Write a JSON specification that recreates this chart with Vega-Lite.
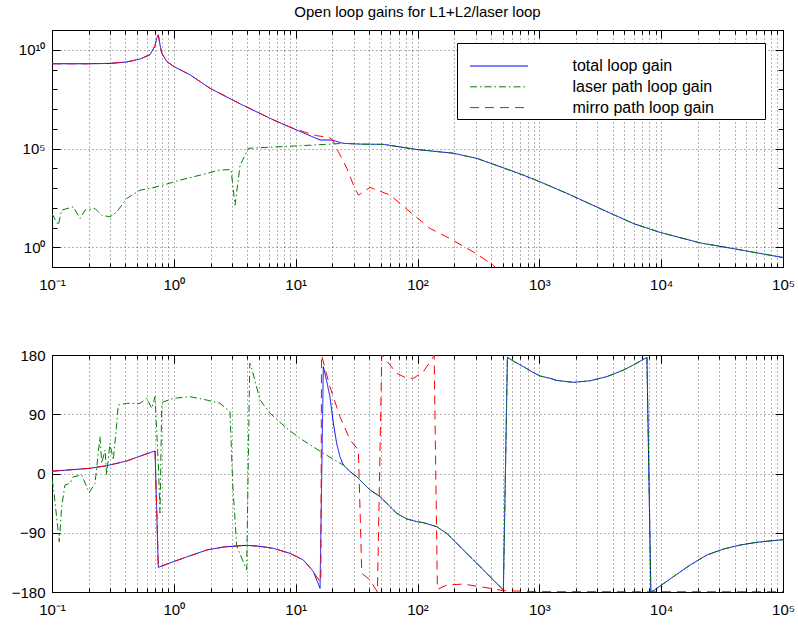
{
"$schema": "https://vega.github.io/schema/vega-lite/v6.json",
"background": "white",
"padding": {"left": 10, "top": 4, "right": 0, "bottom": 5},
"bounds": "flush",
"spacing": 88,
"config": {
  "font": "Liberation Sans",
  "view": {"stroke": "black", "strokeWidth": 1},
  "axis": {"domain": false, "labelColor": "black", "tickColor": "black", "labelFontSize": 15, "gridColor": "#000000", "gridDash": [1, 3], "labelFlush": false, "labelOverlap": false, "labelBound": false}
},
"datasets": {
"mag": [
{"series":"total loop gain","freq":0.1,"gain":1.95e9},
{"series":"total loop gain","freq":0.2,"gain":1.95e9},
{"series":"total loop gain","freq":0.3,"gain":2.04e9},
{"series":"total loop gain","freq":0.41,"gain":2.4e9},
{"series":"total loop gain","freq":0.528,"gain":3.39e9},
{"series":"total loop gain","freq":0.638,"gain":5.62e9},
{"series":"total loop gain","freq":0.70,"gain":1.58e10},
{"series":"total loop gain","freq":0.724,"gain":3.9e10},
{"series":"total loop gain","freq":0.746,"gain":5.75e10},
{"series":"total loop gain","freq":0.770,"gain":1.78e10},
{"series":"total loop gain","freq":0.796,"gain":6.76e9},
{"series":"total loop gain","freq":0.875,"gain":2.57e9},
{"series":"total loop gain","freq":1.0,"gain":1.41e9},
{"series":"total loop gain","freq":1.36,"gain":5.37e8},
{"series":"total loop gain","freq":1.98,"gain":1.12e8},
{"series":"total loop gain","freq":3.5,"gain":1.82e7},
{"series":"total loop gain","freq":6.56,"gain":2.82e6},
{"series":"total loop gain","freq":9.0,"gain":1.2e6},
{"series":"total loop gain","freq":12.3,"gain":5.25e5},
{"series":"total loop gain","freq":15.9,"gain":2.69e5},
{"series":"total loop gain","freq":19.8,"gain":2.69e5},
{"series":"total loop gain","freq":24.6,"gain":1.82e5},
{"series":"total loop gain","freq":35,"gain":1.66e5},
{"series":"total loop gain","freq":52.5,"gain":1.62e5},
{"series":"total loop gain","freq":98.6,"gain":8.9e4},
{"series":"total loop gain","freq":197,"gain":5.75e4},
{"series":"total loop gain","freq":307,"gain":3.16e4},
{"series":"total loop gain","freq":476,"gain":1.2e4},
{"series":"total loop gain","freq":741,"gain":4.47e3},
{"series":"total loop gain","freq":1016,"gain":2.04e3},
{"series":"total loop gain","freq":1682,"gain":537},
{"series":"total loop gain","freq":3155,"gain":91.2},
{"series":"total loop gain","freq":5925,"gain":15.8},
{"series":"total loop gain","freq":9820,"gain":5.62},
{"series":"total loop gain","freq":20900,"gain":1.66},
{"series":"total loop gain","freq":39200,"gain":0.851},
{"series":"total loop gain","freq":100000,"gain":0.302},
{"series":"laser path loop gain","freq":0.1,"gain":50},
{"series":"laser path loop gain","freq":0.1127,"gain":13.2},
{"series":"laser path loop gain","freq":0.12,"gain":75.9},
{"series":"laser path loop gain","freq":0.1496,"gain":112},
{"series":"laser path loop gain","freq":0.1698,"gain":28.8},
{"series":"laser path loop gain","freq":0.1867,"gain":75.9},
{"series":"laser path loop gain","freq":0.2255,"gain":91.2},
{"series":"laser path loop gain","freq":0.256,"gain":41.7},
{"series":"laser path loop gain","freq":0.299,"gain":34.7},
{"series":"laser path loop gain","freq":0.34,"gain":61.7},
{"series":"laser path loop gain","freq":0.41,"gain":295},
{"series":"laser path loop gain","freq":0.528,"gain":776},
{"series":"laser path loop gain","freq":0.638,"gain":955},
{"series":"laser path loop gain","freq":0.821,"gain":1413},
{"series":"laser path loop gain","freq":1.125,"gain":2512},
{"series":"laser path loop gain","freq":1.641,"gain":4467},
{"series":"laser path loop gain","freq":2.395,"gain":8128},
{"series":"laser path loop gain","freq":2.95,"gain":8500},
{"series":"laser path loop gain","freq":3.18,"gain":135},
{"series":"laser path loop gain","freq":3.5,"gain":14454},
{"series":"laser path loop gain","freq":4.09,"gain":1.02e5},
{"series":"laser path loop gain","freq":5.1,"gain":1.1e5},
{"series":"laser path loop gain","freq":10.9,"gain":1.38e5},
{"series":"laser path loop gain","freq":24.6,"gain":1.82e5},
{"series":"laser path loop gain","freq":35,"gain":1.66e5},
{"series":"laser path loop gain","freq":52.5,"gain":1.62e5},
{"series":"laser path loop gain","freq":98.6,"gain":8.9e4},
{"series":"laser path loop gain","freq":197,"gain":5.75e4},
{"series":"laser path loop gain","freq":307,"gain":3.16e4},
{"series":"laser path loop gain","freq":476,"gain":1.2e4},
{"series":"laser path loop gain","freq":741,"gain":4.47e3},
{"series":"laser path loop gain","freq":1016,"gain":2.04e3},
{"series":"laser path loop gain","freq":1682,"gain":537},
{"series":"laser path loop gain","freq":3155,"gain":91.2},
{"series":"laser path loop gain","freq":5925,"gain":15.8},
{"series":"laser path loop gain","freq":9820,"gain":5.62},
{"series":"laser path loop gain","freq":20900,"gain":1.66},
{"series":"laser path loop gain","freq":39200,"gain":0.851},
{"series":"laser path loop gain","freq":100000,"gain":0.302},
{"series":"mirro path loop gain","freq":0.1,"gain":1.95e9},
{"series":"mirro path loop gain","freq":0.2,"gain":1.95e9},
{"series":"mirro path loop gain","freq":0.3,"gain":2.04e9},
{"series":"mirro path loop gain","freq":0.41,"gain":2.4e9},
{"series":"mirro path loop gain","freq":0.528,"gain":3.39e9},
{"series":"mirro path loop gain","freq":0.638,"gain":5.62e9},
{"series":"mirro path loop gain","freq":0.70,"gain":1.58e10},
{"series":"mirro path loop gain","freq":0.724,"gain":3.9e10},
{"series":"mirro path loop gain","freq":0.746,"gain":5.75e10},
{"series":"mirro path loop gain","freq":0.770,"gain":1.78e10},
{"series":"mirro path loop gain","freq":0.796,"gain":6.76e9},
{"series":"mirro path loop gain","freq":0.875,"gain":2.57e9},
{"series":"mirro path loop gain","freq":1.0,"gain":1.41e9},
{"series":"mirro path loop gain","freq":1.36,"gain":5.37e8},
{"series":"mirro path loop gain","freq":1.98,"gain":1.12e8},
{"series":"mirro path loop gain","freq":3.5,"gain":1.82e7},
{"series":"mirro path loop gain","freq":6.56,"gain":2.82e6},
{"series":"mirro path loop gain","freq":9.0,"gain":1.2e6},
{"series":"mirro path loop gain","freq":12.3,"gain":6.31e5},
{"series":"mirro path loop gain","freq":14.9,"gain":4.47e5},
{"series":"mirro path loop gain","freq":19.1,"gain":3.55e5},
{"series":"mirro path loop gain","freq":20.4,"gain":2.24e5},
{"series":"mirro path loop gain","freq":22.4,"gain":6.92e4},
{"series":"mirro path loop gain","freq":26.3,"gain":1.0e4},
{"series":"mirro path loop gain","freq":29.8,"gain":1413},
{"series":"mirro path loop gain","freq":32.7,"gain":437},
{"series":"mirro path loop gain","freq":40.8,"gain":1072},
{"series":"mirro path loop gain","freq":59.6,"gain":437},
{"series":"mirro path loop gain","freq":86.9,"gain":61.7},
{"series":"mirro path loop gain","freq":126.8,"gain":8.91},
{"series":"mirro path loop gain","freq":185,"gain":2.75},
{"series":"mirro path loop gain","freq":288,"gain":0.575},
{"series":"mirro path loop gain","freq":420,"gain":0.123},
{"series":"mirro path loop gain","freq":476,"gain":0.05}
],
"phase": [
{"series":"total loop gain","freq":0.1,"phase":3.5},
{"series":"total loop gain","freq":0.205,"phase":7.9},
{"series":"total loop gain","freq":0.281,"phase":11.8},
{"series":"total loop gain","freq":0.41,"phase":19},
{"series":"total loop gain","freq":0.562,"phase":28.1},
{"series":"total loop gain","freq":0.701,"phase":34.2},
{"series":"total loop gain","freq":0.746,"phase":-142.5},
{"series":"total loop gain","freq":0.99,"phase":-134},
{"series":"total loop gain","freq":1.36,"phase":-125},
{"series":"total loop gain","freq":1.862,"phase":-116.2},
{"series":"total loop gain","freq":2.6,"phase":-111.5},
{"series":"total loop gain","freq":3.5,"phase":-109.7},
{"series":"total loop gain","freq":3.96,"phase":-109.1},
{"series":"total loop gain","freq":5.0,"phase":-110.5},
{"series":"total loop gain","freq":6.56,"phase":-113.7},
{"series":"total loop gain","freq":9.0,"phase":-121.3},
{"series":"total loop gain","freq":10.86,"phase":-128.9},
{"series":"total loop gain","freq":11.56,"phase":-131.4},
{"series":"total loop gain","freq":13.97,"phase":-149},
{"series":"total loop gain","freq":15.85,"phase":-174.4},
{"series":"total loop gain","freq":16.87,"phase":162.2},
{"series":"total loop gain","freq":18,"phase":139.5},
{"series":"total loop gain","freq":19.1,"phase":116.7},
{"series":"total loop gain","freq":20.4,"phase":76.2},
{"series":"total loop gain","freq":21.7,"phase":45.8},
{"series":"total loop gain","freq":23.1,"phase":25.5},
{"series":"total loop gain","freq":24.6,"phase":12.9},
{"series":"total loop gain","freq":28,"phase":2.8},
{"series":"total loop gain","freq":31.7,"phase":-4.8},
{"series":"total loop gain","freq":35.8,"phase":-14.8},
{"series":"total loop gain","freq":40.8,"phase":-25},
{"series":"total loop gain","freq":49.3,"phase":-35.2},
{"series":"total loop gain","freq":59.6,"phase":-50.4},
{"series":"total loop gain","freq":67.6,"phase":-60.5},
{"series":"total loop gain","freq":81.7,"phase":-69},
{"series":"total loop gain","freq":98.6,"phase":-73.2},
{"series":"total loop gain","freq":111.7,"phase":-74.7},
{"series":"total loop gain","freq":143.9,"phase":-80.8},
{"series":"total loop gain","freq":174,"phase":-90.9},
{"series":"total loop gain","freq":238,"phase":-116.2},
{"series":"total loop gain","freq":307,"phase":-136.4},
{"series":"total loop gain","freq":394,"phase":-156.8},
{"series":"total loop gain","freq":507,"phase":-177},
{"series":"total loop gain","freq":547,"phase":176.5},
{"series":"total loop gain","freq":620,"phase":170},
{"series":"total loop gain","freq":741,"phase":162.2},
{"series":"total loop gain","freq":880,"phase":154},
{"series":"total loop gain","freq":1016,"phase":148},
{"series":"total loop gain","freq":1227,"phase":144.6},
{"series":"total loop gain","freq":1380,"phase":141.4},
{"series":"total loop gain","freq":1905,"phase":138.5},
{"series":"total loop gain","freq":2600,"phase":140.8},
{"series":"total loop gain","freq":3580,"phase":147.1},
{"series":"total loop gain","freq":4920,"phase":157.2},
{"series":"total loop gain","freq":5920,"phase":164.8},
{"series":"total loop gain","freq":7640,"phase":176.5},
{"series":"total loop gain","freq":8230,"phase":-180},
{"series":"total loop gain","freq":8650,"phase":-178},
{"series":"total loop gain","freq":12600,"phase":-156.7},
{"series":"total loop gain","freq":17300,"phase":-139},
{"series":"total loop gain","freq":23700,"phase":-123.8},
{"series":"total loop gain","freq":32500,"phase":-114.7},
{"series":"total loop gain","freq":44600,"phase":-108.6},
{"series":"total loop gain","freq":61100,"phase":-104.5},
{"series":"total loop gain","freq":100000,"phase":-100.5},
{"series":"laser path loop gain","freq":0.1,"phase":-10},
{"series":"laser path loop gain","freq":0.1025,"phase":-20},
{"series":"laser path loop gain","freq":0.1148,"phase":-103.6},
{"series":"laser path loop gain","freq":0.12,"phase":-50.4},
{"series":"laser path loop gain","freq":0.1278,"phase":-17.5},
{"series":"laser path loop gain","freq":0.1405,"phase":-15},
{"series":"laser path loop gain","freq":0.1496,"phase":-5},
{"series":"laser path loop gain","freq":0.1753,"phase":-2.3},
{"series":"laser path loop gain","freq":0.2023,"phase":-29.2},
{"series":"laser path loop gain","freq":0.2255,"phase":-15},
{"series":"laser path loop gain","freq":0.2477,"phase":56},
{"series":"laser path loop gain","freq":0.256,"phase":15.6},
{"series":"laser path loop gain","freq":0.2725,"phase":35.7},
{"series":"laser path loop gain","freq":0.281,"phase":-2.3},
{"series":"laser path loop gain","freq":0.299,"phase":45.8},
{"series":"laser path loop gain","freq":0.3186,"phase":20.5},
{"series":"laser path loop gain","freq":0.34,"phase":76.1},
{"series":"laser path loop gain","freq":0.35,"phase":104},
{"series":"laser path loop gain","freq":0.41,"phase":106.6},
{"series":"laser path loop gain","freq":0.528,"phase":106.6},
{"series":"laser path loop gain","freq":0.599,"phase":114.1},
{"series":"laser path loop gain","freq":0.659,"phase":99},
{"series":"laser path loop gain","freq":0.701,"phase":116.7},
{"series":"laser path loop gain","freq":0.746,"phase":12.9},
{"series":"laser path loop gain","freq":0.77,"phase":-60},
{"series":"laser path loop gain","freq":0.796,"phase":106.6},
{"series":"laser path loop gain","freq":0.821,"phase":109},
{"series":"laser path loop gain","freq":0.99,"phase":114.1},
{"series":"laser path loop gain","freq":1.36,"phase":116.7},
{"series":"laser path loop gain","freq":1.862,"phase":111.6},
{"series":"laser path loop gain","freq":2.395,"phase":106.6},
{"series":"laser path loop gain","freq":2.893,"phase":93.9},
{"series":"laser path loop gain","freq":3.04,"phase":-15},
{"series":"laser path loop gain","freq":3.28,"phase":-110},
{"series":"laser path loop gain","freq":3.96,"phase":-146.6},
{"series":"laser path loop gain","freq":4.2,"phase":167.4},
{"series":"laser path loop gain","freq":4.35,"phase":160},
{"series":"laser path loop gain","freq":5.1,"phase":111.6},
{"series":"laser path loop gain","freq":6.17,"phase":91.4},
{"series":"laser path loop gain","freq":8.45,"phase":68.6},
{"series":"laser path loop gain","freq":10.86,"phase":53.4},
{"series":"laser path loop gain","freq":16.87,"phase":30.7},
{"series":"laser path loop gain","freq":24.6,"phase":12.9},
{"series":"laser path loop gain","freq":28,"phase":2.8},
{"series":"laser path loop gain","freq":31.7,"phase":-4.8},
{"series":"laser path loop gain","freq":35.8,"phase":-14.8},
{"series":"laser path loop gain","freq":40.8,"phase":-25},
{"series":"laser path loop gain","freq":49.3,"phase":-35.2},
{"series":"laser path loop gain","freq":59.6,"phase":-50.4},
{"series":"laser path loop gain","freq":67.6,"phase":-60.5},
{"series":"laser path loop gain","freq":81.7,"phase":-69},
{"series":"laser path loop gain","freq":98.6,"phase":-73.2},
{"series":"laser path loop gain","freq":111.7,"phase":-74.7},
{"series":"laser path loop gain","freq":143.9,"phase":-80.8},
{"series":"laser path loop gain","freq":174,"phase":-90.9},
{"series":"laser path loop gain","freq":238,"phase":-116.2},
{"series":"laser path loop gain","freq":307,"phase":-136.4},
{"series":"laser path loop gain","freq":394,"phase":-156.8},
{"series":"laser path loop gain","freq":507,"phase":-177},
{"series":"laser path loop gain","freq":547,"phase":176.5},
{"series":"laser path loop gain","freq":620,"phase":170},
{"series":"laser path loop gain","freq":741,"phase":162.2},
{"series":"laser path loop gain","freq":880,"phase":154},
{"series":"laser path loop gain","freq":1016,"phase":148},
{"series":"laser path loop gain","freq":1227,"phase":144.6},
{"series":"laser path loop gain","freq":1380,"phase":141.4},
{"series":"laser path loop gain","freq":1905,"phase":138.5},
{"series":"laser path loop gain","freq":2600,"phase":140.8},
{"series":"laser path loop gain","freq":3580,"phase":147.1},
{"series":"laser path loop gain","freq":4920,"phase":157.2},
{"series":"laser path loop gain","freq":5920,"phase":164.8},
{"series":"laser path loop gain","freq":7640,"phase":176.5},
{"series":"laser path loop gain","freq":8230,"phase":-180},
{"series":"laser path loop gain","freq":8650,"phase":-178},
{"series":"laser path loop gain","freq":12600,"phase":-156.7},
{"series":"laser path loop gain","freq":17300,"phase":-139},
{"series":"laser path loop gain","freq":23700,"phase":-123.8},
{"series":"laser path loop gain","freq":32500,"phase":-114.7},
{"series":"laser path loop gain","freq":44600,"phase":-108.6},
{"series":"laser path loop gain","freq":61100,"phase":-104.5},
{"series":"laser path loop gain","freq":100000,"phase":-100.5},
{"series":"mirro path loop gain","freq":0.1,"phase":3.5},
{"series":"mirro path loop gain","freq":0.205,"phase":7.9},
{"series":"mirro path loop gain","freq":0.281,"phase":11.8},
{"series":"mirro path loop gain","freq":0.41,"phase":19},
{"series":"mirro path loop gain","freq":0.562,"phase":28.1},
{"series":"mirro path loop gain","freq":0.701,"phase":34.2},
{"series":"mirro path loop gain","freq":0.746,"phase":-142.5},
{"series":"mirro path loop gain","freq":0.99,"phase":-134},
{"series":"mirro path loop gain","freq":1.36,"phase":-125},
{"series":"mirro path loop gain","freq":1.862,"phase":-116.2},
{"series":"mirro path loop gain","freq":2.6,"phase":-111.5},
{"series":"mirro path loop gain","freq":3.5,"phase":-109.7},
{"series":"mirro path loop gain","freq":3.96,"phase":-109.1},
{"series":"mirro path loop gain","freq":5.0,"phase":-110.5},
{"series":"mirro path loop gain","freq":6.56,"phase":-113.7},
{"series":"mirro path loop gain","freq":9.0,"phase":-121.3},
{"series":"mirro path loop gain","freq":10.86,"phase":-128.9},
{"series":"mirro path loop gain","freq":11.56,"phase":-131.4},
{"series":"mirro path loop gain","freq":13.97,"phase":-149},
{"series":"mirro path loop gain","freq":15.5,"phase":-161.8},
{"series":"mirro path loop gain","freq":16.1,"phase":-165},
{"series":"mirro path loop gain","freq":16.3,"phase":180},
{"series":"mirro path loop gain","freq":19.1,"phase":131.9},
{"series":"mirro path loop gain","freq":23.1,"phase":86.3},
{"series":"mirro path loop gain","freq":28.0,"phase":50.9},
{"series":"mirro path loop gain","freq":32.7,"phase":35.7},
{"series":"mirro path loop gain","freq":34.9,"phase":-151.6},
{"series":"mirro path loop gain","freq":40.8,"phase":-161.8},
{"series":"mirro path loop gain","freq":46.9,"phase":-180},
{"series":"mirro path loop gain","freq":50.9,"phase":180},
{"series":"mirro path loop gain","freq":52.5,"phase":177.4},
{"series":"mirro path loop gain","freq":67.6,"phase":152.2},
{"series":"mirro path loop gain","freq":81.7,"phase":144.6},
{"series":"mirro path loop gain","freq":92.5,"phase":144.6},
{"series":"mirro path loop gain","freq":111.7,"phase":154.7},
{"series":"mirro path loop gain","freq":135.1,"phase":177.4},
{"series":"mirro path loop gain","freq":137,"phase":180},
{"series":"mirro path loop gain","freq":145.6,"phase":-176},
{"series":"mirro path loop gain","freq":174,"phase":-169.4},
{"series":"mirro path loop gain","freq":238,"phase":-167.9},
{"series":"mirro path loop gain","freq":394,"phase":-174.4},
{"series":"mirro path loop gain","freq":507,"phase":-178},
{"series":"mirro path loop gain","freq":1000,"phase":-179.5},
{"series":"mirro path loop gain","freq":100000,"phase":-179.6}
]
},
"resolve": {"legend": {"color": "independent", "strokeDash": "independent"}},
"vconcat": [
{
  "title": {"text": "Open loop gains for L1+L2/laser loop", "fontSize": 15, "fontWeight": "normal", "color": "black", "offset": 3},
  "width": 731, "height": 237,
  "data": {"name": "mag"},
  "resolve": {"axis": {"x": "independent", "y": "independent"}},
  "layer": [
    {
      "mark": {"type": "line", "strokeWidth": 1, "clip": true},
      "encoding": {
        "x": {"field": "freq", "type": "quantitative", "scale": {"type": "log", "domain": [0.1, 100000], "nice": false},
          "axis": {"orient": "bottom", "title": null, "grid": true, "gridOpacity": 0.6,
            "values": [0.1,0.2,0.3,0.4,0.5,0.6,0.7,0.8,0.9,1,2,3,4,5,6,7,8,9,10,20,30,40,50,60,70,80,90,100,200,300,400,500,600,700,800,900,1000,2000,3000,4000,5000,6000,7000,8000,9000,10000,20000,30000,40000,50000,60000,70000,80000,90000,100000],
            "tickSize": {"condition": {"test": "datum.value == 0.1 || datum.value == 1 || datum.value == 10 || datum.value == 100 || datum.value == 1000 || datum.value == 10000 || datum.value == 100000", "value": -8}, "value": -4},
            "labelPadding": 18,
            "labelExpr": "datum.value == 0.1 ? '10⁻¹' : datum.value == 1 ? '10⁰' : datum.value == 10 ? '10¹' : datum.value == 100 ? '10²' : datum.value == 1000 ? '10³' : datum.value == 10000 ? '10⁴' : datum.value == 100000 ? '10⁵' : ''"}},
        "y": {"field": "gain", "type": "quantitative", "scale": {"type": "log", "domain": [0.1, 100000000000], "nice": false},
          "axis": {"orient": "left", "title": null, "grid": true,
            "values": [0.1,1,10,100,1000,10000,100000,1000000,10000000,100000000,1000000000,10000000000,100000000000],
            "gridOpacity": {"condition": {"test": "datum.value == 1 || datum.value == 100000 || datum.value == 10000000000", "value": 0.6}, "value": 0},
            "tickSize": {"condition": {"test": "datum.value == 1 || datum.value == 100000 || datum.value == 10000000000", "value": -8}, "value": -5},
            "labelPadding": 15,
            "labelExpr": "datum.value == 1 ? '10⁰' : datum.value == 100000 ? '10⁵' : datum.value == 10000000000 ? '10¹⁰' : ''"}},
        "color": {"field": "series", "type": "nominal",
          "scale": {"domain": ["total loop gain", "laser path loop gain", "mirro path loop gain"], "range": ["#0000ff", "#008000", "#ff0000"]},
          "legend": {"orient": "none", "legendX": 405, "legendY": 13, "title": " ", "titleFontSize": 8, "titlePadding": 4, "padding": 3, "fillColor": "white", "strokeColor": "black", "symbolType": "stroke", "symbolSize": 3364, "symbolStrokeWidth": 1, "symbolOffset": 9.5, "clipHeight": 16, "rowPadding": 4.8, "labelFontSize": 16, "labelColor": "black", "labelOffset": 44, "labelLimit": 400, "labelExpr": "datum.label + '\u2800\u2800\u2800\u2800'"}},
        "strokeDash": {"field": "series", "type": "nominal",
          "scale": {"domain": ["total loop gain", "laser path loop gain", "mirro path loop gain"], "range": [[1, 0], [7, 3, 1.5, 3], [9, 6]]},
          "legend": {"orient": "none", "legendX": 405, "legendY": 13, "title": " ", "titleFontSize": 8, "titlePadding": 4, "padding": 3, "fillColor": "white", "strokeColor": "black", "symbolType": "stroke", "symbolSize": 3364, "symbolStrokeWidth": 1, "symbolOffset": 9.5, "clipHeight": 16, "rowPadding": 4.8, "labelFontSize": 16, "labelColor": "black", "labelOffset": 44, "labelLimit": 400, "labelExpr": "datum.label + '\u2800\u2800\u2800\u2800'"}}
      }
    },
    {
      "mark": {"type": "line", "strokeOpacity": 0, "clip": true},
      "encoding": {
        "x": {"field": "freq", "type": "quantitative", "scale": {"type": "log", "domain": [0.1, 100000], "nice": false},
          "axis": {"orient": "top", "title": null, "grid": false, "labels": false,
            "values": [0.1,0.2,0.3,0.4,0.5,0.6,0.7,0.8,0.9,1,2,3,4,5,6,7,8,9,10,20,30,40,50,60,70,80,90,100,200,300,400,500,600,700,800,900,1000,2000,3000,4000,5000,6000,7000,8000,9000,10000,20000,30000,40000,50000,60000,70000,80000,90000,100000],
            "tickSize": {"condition": {"test": "datum.value == 0.1 || datum.value == 1 || datum.value == 10 || datum.value == 100 || datum.value == 1000 || datum.value == 10000 || datum.value == 100000", "value": -8}, "value": -4}}},
        "y": {"field": "gain", "type": "quantitative", "scale": {"type": "log", "domain": [0.1, 100000000000], "nice": false},
          "axis": {"orient": "right", "title": null, "grid": false, "labels": false,
            "values": [0.1,1,10,100,1000,10000,100000,1000000,10000000,100000000,1000000000,10000000000,100000000000],
            "tickSize": {"condition": {"test": "datum.value == 1 || datum.value == 100000 || datum.value == 10000000000", "value": -8}, "value": -5}}},
        "detail": {"field": "series"}
      }
    }
  ]
},
{
  "width": 731, "height": 237,
  "data": {"name": "phase"},
  "resolve": {"axis": {"x": "independent", "y": "independent"}},
  "layer": [
    {
      "mark": {"type": "line", "strokeWidth": 1, "clip": true},
      "encoding": {
        "x": {"field": "freq", "type": "quantitative", "scale": {"type": "log", "domain": [0.1, 100000], "nice": false},
          "axis": {"orient": "bottom", "title": null, "grid": true, "gridOpacity": 0.6,
            "values": [0.1,0.2,0.3,0.4,0.5,0.6,0.7,0.8,0.9,1,2,3,4,5,6,7,8,9,10,20,30,40,50,60,70,80,90,100,200,300,400,500,600,700,800,900,1000,2000,3000,4000,5000,6000,7000,8000,9000,10000,20000,30000,40000,50000,60000,70000,80000,90000,100000],
            "tickSize": {"condition": {"test": "datum.value == 0.1 || datum.value == 1 || datum.value == 10 || datum.value == 100 || datum.value == 1000 || datum.value == 10000 || datum.value == 100000", "value": -8}, "value": -4},
            "labelPadding": 18,
            "labelExpr": "datum.value == 0.1 ? '10⁻¹' : datum.value == 1 ? '10⁰' : datum.value == 10 ? '10¹' : datum.value == 100 ? '10²' : datum.value == 1000 ? '10³' : datum.value == 10000 ? '10⁴' : datum.value == 100000 ? '10⁵' : ''"}},
        "y": {"field": "phase", "type": "quantitative", "scale": {"domain": [-180, 180], "nice": false, "zero": false},
          "axis": {"orient": "left", "title": null, "grid": true,
            "values": [-180, -90, 0, 90, 180],
            "gridOpacity": {"condition": {"test": "abs(datum.value) < 170", "value": 0.6}, "value": 0},
            "tickSize": -8,
            "labelPadding": 15}},
        "color": {"field": "series", "type": "nominal",
          "scale": {"domain": ["total loop gain", "laser path loop gain", "mirro path loop gain"], "range": ["#0000ff", "#008000", "#ff0000"]},
          "legend": null},
        "strokeDash": {"field": "series", "type": "nominal",
          "scale": {"domain": ["total loop gain", "laser path loop gain", "mirro path loop gain"], "range": [[1, 0], [7, 3, 1.5, 3], [9, 6]]},
          "legend": null}
      }
    },
    {
      "mark": {"type": "line", "strokeOpacity": 0, "clip": true},
      "encoding": {
        "x": {"field": "freq", "type": "quantitative", "scale": {"type": "log", "domain": [0.1, 100000], "nice": false},
          "axis": {"orient": "top", "title": null, "grid": false, "labels": false,
            "values": [0.1,0.2,0.3,0.4,0.5,0.6,0.7,0.8,0.9,1,2,3,4,5,6,7,8,9,10,20,30,40,50,60,70,80,90,100,200,300,400,500,600,700,800,900,1000,2000,3000,4000,5000,6000,7000,8000,9000,10000,20000,30000,40000,50000,60000,70000,80000,90000,100000],
            "tickSize": {"condition": {"test": "datum.value == 0.1 || datum.value == 1 || datum.value == 10 || datum.value == 100 || datum.value == 1000 || datum.value == 10000 || datum.value == 100000", "value": -8}, "value": -4}}},
        "y": {"field": "phase", "type": "quantitative", "scale": {"domain": [-180, 180], "nice": false, "zero": false},
          "axis": {"orient": "right", "title": null, "grid": false, "labels": false,
            "values": [-180, -90, 0, 90, 180],
            "tickSize": -8}},
        "detail": {"field": "series"}
      }
    }
  ]
}
]
}
